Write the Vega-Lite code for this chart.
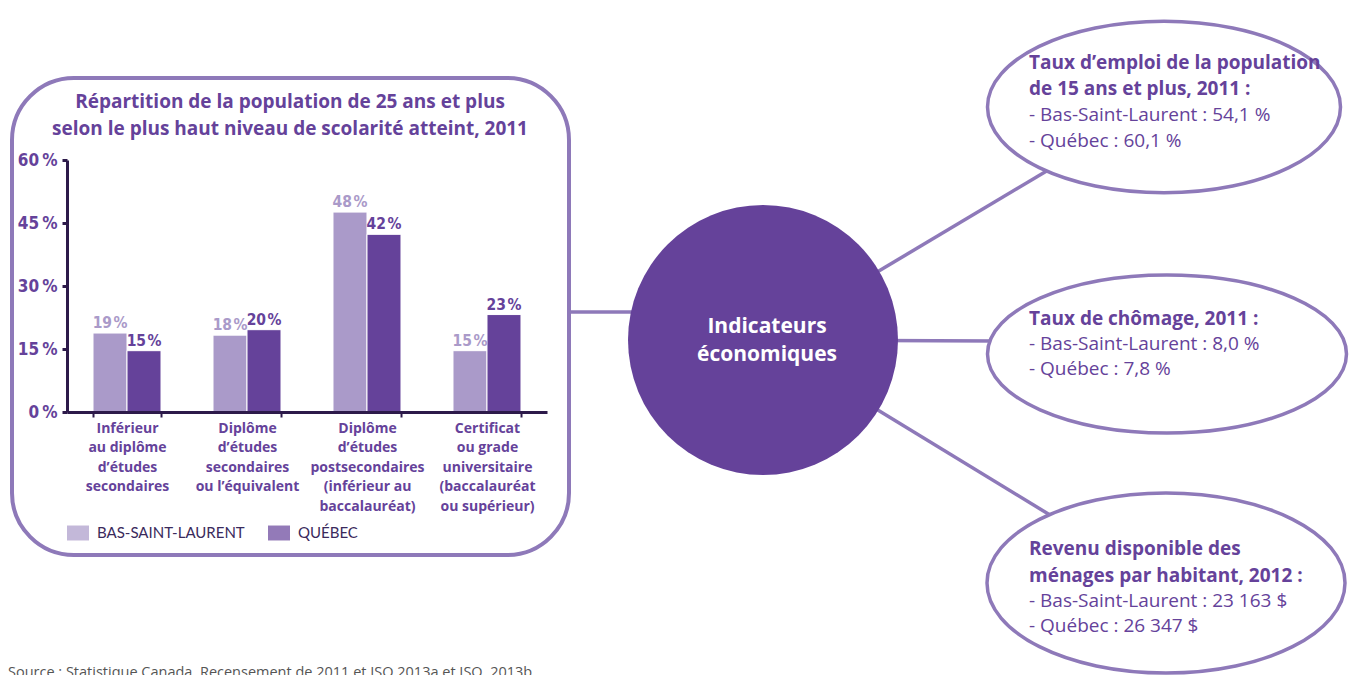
{
  "$schema": "https://vega.github.io/schema/vega-lite/v6.json",
  "width": 1353,
  "height": 675,
  "autosize": {"type": "none"},
  "padding": 0,
  "background": "white",
  "config": {"view": {"stroke": null}, "font": "Open Sans"},
  "resolve": {"scale": {"x": "independent", "y": "independent", "color": "independent"}, "axis": {"x": "independent", "y": "independent"}},
  "layer": [
    {
      "data": {"values": [{}]},
      "layer": [
        {
          "mark": {"type": "rule", "stroke": "#8e79b9", "strokeWidth": 3.5},
          "encoding": {
            "x": {"datum": 569, "type": "quantitative", "scale": {"domain": [0, 1353], "nice": false}, "axis": null},
            "x2": {"datum": 700},
            "y": {"datum": 312, "type": "quantitative", "scale": {"domain": [675, 0], "nice": false}, "axis": null},
            "y2": {"datum": 312}
          }
        },
        {
          "mark": {"type": "rule", "stroke": "#8e79b9", "strokeWidth": 3.5},
          "encoding": {
            "x": {"datum": 763, "type": "quantitative", "scale": {"domain": [0, 1353], "nice": false}, "axis": null},
            "x2": {"datum": 1050},
            "y": {"datum": 340, "type": "quantitative", "scale": {"domain": [675, 0], "nice": false}, "axis": null},
            "y2": {"datum": 169}
          }
        },
        {
          "mark": {"type": "rule", "stroke": "#8e79b9", "strokeWidth": 3.5},
          "encoding": {
            "x": {"datum": 763, "type": "quantitative", "scale": {"domain": [0, 1353], "nice": false}, "axis": null},
            "x2": {"datum": 995},
            "y": {"datum": 340, "type": "quantitative", "scale": {"domain": [675, 0], "nice": false}, "axis": null},
            "y2": {"datum": 341}
          }
        },
        {
          "mark": {"type": "rule", "stroke": "#8e79b9", "strokeWidth": 3.5},
          "encoding": {
            "x": {"datum": 763, "type": "quantitative", "scale": {"domain": [0, 1353], "nice": false}, "axis": null},
            "x2": {"datum": 1050},
            "y": {"datum": 340, "type": "quantitative", "scale": {"domain": [675, 0], "nice": false}, "axis": null},
            "y2": {"datum": 515}
          }
        },
        {
          "mark": {"type": "rect", "cornerRadius": 62, "fillOpacity": 0, "fill": "white", "stroke": "#8e79b9", "strokeWidth": 4},
          "encoding": {
            "x": {"datum": 12, "type": "quantitative", "scale": {"domain": [0, 1353], "nice": false}, "axis": null},
            "x2": {"datum": 569},
            "y": {"datum": 78, "type": "quantitative", "scale": {"domain": [675, 0], "nice": false}, "axis": null},
            "y2": {"datum": 555}
          }
        },
        {
          "mark": {"type": "point", "shape": "circle", "filled": true, "fill": "#65429a", "opacity": 1, "size": 72900, "strokeWidth": 0},
          "encoding": {
            "x": {"datum": 763, "type": "quantitative", "scale": {"domain": [0, 1353], "nice": false}, "axis": null},
            "y": {"datum": 340, "type": "quantitative", "scale": {"domain": [675, 0], "nice": false}, "axis": null}
          }
        },
        {
          "mark": {"type": "point", "shape": "M-1,0A1,0.486,0,1,1,1,0A1,0.486,0,1,1,-1,0Z", "filled": true, "fill": "white", "opacity": 1, "stroke": "#8e79b9", "strokeWidth": 3.5, "size": 124609},
          "encoding": {
            "x": {"datum": 1164, "type": "quantitative", "scale": {"domain": [0, 1353], "nice": false}, "axis": null},
            "y": {"datum": 107, "type": "quantitative", "scale": {"domain": [675, 0], "nice": false}, "axis": null}
          }
        },
        {
          "mark": {"type": "point", "shape": "M-1,0A1,0.44,0,1,1,1,0A1,0.44,0,1,1,-1,0Z", "filled": true, "fill": "white", "opacity": 1, "stroke": "#8e79b9", "strokeWidth": 3.5, "size": 128881},
          "encoding": {
            "x": {"datum": 1167, "type": "quantitative", "scale": {"domain": [0, 1353], "nice": false}, "axis": null},
            "y": {"datum": 354, "type": "quantitative", "scale": {"domain": [675, 0], "nice": false}, "axis": null}
          }
        },
        {
          "mark": {"type": "point", "shape": "M-1,0A1,0.503,0,1,1,1,0A1,0.503,0,1,1,-1,0Z", "filled": true, "fill": "white", "opacity": 1, "stroke": "#8e79b9", "strokeWidth": 3.5, "size": 128164},
          "encoding": {
            "x": {"datum": 1166, "type": "quantitative", "scale": {"domain": [0, 1353], "nice": false}, "axis": null},
            "y": {"datum": 583, "type": "quantitative", "scale": {"domain": [675, 0], "nice": false}, "axis": null}
          }
        }
      ]
    },
    {
      "data": {"values": [{"t": "Répartition de la population de 25 ans et plus\nselon le plus haut niveau de scolarité atteint, 2011"}]},
      "mark": {"type": "text", "lineBreak": "\n", "align": "center", "baseline": "middle", "font": "Open Sans", "fontWeight": "bold", "fontSize": 19, "lineHeight": 27, "color": "#65429a"},
      "encoding": {
        "x": {"datum": 290, "type": "quantitative", "scale": {"domain": [0, 1353], "nice": false}, "axis": null},
        "y": {"datum": 102, "type": "quantitative", "scale": {"domain": [675, 0], "nice": false}, "axis": null},
        "text": {"field": "t"}
      }
    },
    {
      "data": {"values": [{"t": "Indicateurs\néconomiques"}]},
      "mark": {"type": "text", "lineBreak": "\n", "align": "center", "baseline": "middle", "font": "Open Sans", "fontWeight": "bold", "fontSize": 21, "lineHeight": 28, "color": "white"},
      "encoding": {
        "x": {"datum": 767, "type": "quantitative", "scale": {"domain": [0, 1353], "nice": false}, "axis": null},
        "y": {"datum": 327, "type": "quantitative", "scale": {"domain": [675, 0], "nice": false}, "axis": null},
        "text": {"field": "t"}
      }
    },
    {
      "data": {"values": [{"t": "Taux d’emploi de la population\nde 15 ans et plus, 2011 :"}]},
      "mark": {"type": "text", "lineBreak": "\n", "align": "left", "baseline": "middle", "font": "Open Sans", "fontWeight": "bold", "fontSize": 19, "lineHeight": 26, "color": "#65429a"},
      "encoding": {
        "x": {"datum": 1029, "type": "quantitative", "scale": {"domain": [0, 1353], "nice": false}, "axis": null},
        "y": {"datum": 63, "type": "quantitative", "scale": {"domain": [675, 0], "nice": false}, "axis": null},
        "text": {"field": "t"}
      }
    },
    {
      "data": {"values": [{"t": "- Bas-Saint-Laurent : 54,1 %\n- Québec : 60,1 %"}]},
      "mark": {"type": "text", "lineBreak": "\n", "align": "left", "baseline": "middle", "font": "Open Sans", "fontWeight": "normal", "fontSize": 19, "lineHeight": 26, "color": "#65429a"},
      "encoding": {
        "x": {"datum": 1029, "type": "quantitative", "scale": {"domain": [0, 1353], "nice": false}, "axis": null},
        "y": {"datum": 115, "type": "quantitative", "scale": {"domain": [675, 0], "nice": false}, "axis": null},
        "text": {"field": "t"}
      }
    },
    {
      "data": {"values": [{"t": "Taux de chômage, 2011 :"}]},
      "mark": {"type": "text", "align": "left", "baseline": "middle", "font": "Open Sans", "fontWeight": "bold", "fontSize": 19, "color": "#65429a"},
      "encoding": {
        "x": {"datum": 1029, "type": "quantitative", "scale": {"domain": [0, 1353], "nice": false}, "axis": null},
        "y": {"datum": 319, "type": "quantitative", "scale": {"domain": [675, 0], "nice": false}, "axis": null},
        "text": {"field": "t"}
      }
    },
    {
      "data": {"values": [{"t": "- Bas-Saint-Laurent : 8,0 %\n- Québec : 7,8 %"}]},
      "mark": {"type": "text", "lineBreak": "\n", "align": "left", "baseline": "middle", "font": "Open Sans", "fontWeight": "normal", "fontSize": 19, "lineHeight": 25, "color": "#65429a"},
      "encoding": {
        "x": {"datum": 1029, "type": "quantitative", "scale": {"domain": [0, 1353], "nice": false}, "axis": null},
        "y": {"datum": 344, "type": "quantitative", "scale": {"domain": [675, 0], "nice": false}, "axis": null},
        "text": {"field": "t"}
      }
    },
    {
      "data": {"values": [{"t": "Revenu disponible des\nménages par habitant, 2012 :"}]},
      "mark": {"type": "text", "lineBreak": "\n", "align": "left", "baseline": "middle", "font": "Open Sans", "fontWeight": "bold", "fontSize": 19, "lineHeight": 26.5, "color": "#65429a"},
      "encoding": {
        "x": {"datum": 1029, "type": "quantitative", "scale": {"domain": [0, 1353], "nice": false}, "axis": null},
        "y": {"datum": 549, "type": "quantitative", "scale": {"domain": [675, 0], "nice": false}, "axis": null},
        "text": {"field": "t"}
      }
    },
    {
      "data": {"values": [{"t": "- Bas-Saint-Laurent : 23 163 $\n- Québec : 26 347 $"}]},
      "mark": {"type": "text", "lineBreak": "\n", "align": "left", "baseline": "middle", "font": "Open Sans", "fontWeight": "normal", "fontSize": 19, "lineHeight": 24.5, "color": "#65429a"},
      "encoding": {
        "x": {"datum": 1029, "type": "quantitative", "scale": {"domain": [0, 1353], "nice": false}, "axis": null},
        "y": {"datum": 601, "type": "quantitative", "scale": {"domain": [675, 0], "nice": false}, "axis": null},
        "text": {"field": "t"}
      }
    },
    {
      "data": {"values": [{"t": "Source : Statistique Canada, Recensement de 2011 et ISQ 2013a et ISQ, 2013b"}]},
      "mark": {"type": "text", "align": "left", "baseline": "alphabetic", "font": "Open Sans", "fontWeight": "normal", "fontSize": 14.5, "color": "#555555"},
      "encoding": {
        "x": {"datum": 8, "type": "quantitative", "scale": {"domain": [0, 1353], "nice": false}, "axis": null},
        "y": {"datum": 677, "type": "quantitative", "scale": {"domain": [675, 0], "nice": false}, "axis": null},
        "text": {"field": "t"}
      }
    },
    {
      "data": {
        "values": [
          {"cat": "Inférieur|au diplôme|d’études|secondaires", "region": "BAS-SAINT-LAURENT", "pct": 18.8},
          {"cat": "Inférieur|au diplôme|d’études|secondaires", "region": "QUÉBEC", "pct": 14.6},
          {"cat": "Diplôme|d’études|secondaires|ou l’équivalent", "region": "BAS-SAINT-LAURENT", "pct": 18.3},
          {"cat": "Diplôme|d’études|secondaires|ou l’équivalent", "region": "QUÉBEC", "pct": 19.6},
          {"cat": "Diplôme|d’études|postsecondaires|(inférieur au|baccalauréat)", "region": "BAS-SAINT-LAURENT", "pct": 47.6},
          {"cat": "Diplôme|d’études|postsecondaires|(inférieur au|baccalauréat)", "region": "QUÉBEC", "pct": 42.3},
          {"cat": "Certificat|ou grade|universitaire|(baccalauréat|ou supérieur)", "region": "BAS-SAINT-LAURENT", "pct": 14.6},
          {"cat": "Certificat|ou grade|universitaire|(baccalauréat|ou supérieur)", "region": "QUÉBEC", "pct": 23.2}
        ]
      },
      "transform": [{"calculate": "format(datum.pct, '.0f') + '\u200a%'", "as": "lbl"}],
      "encoding": {
        "x": {
          "field": "cat", "type": "nominal",
          "sort": ["Inférieur|au diplôme|d’études|secondaires", "Diplôme|d’études|secondaires|ou l’équivalent", "Diplôme|d’études|postsecondaires|(inférieur au|baccalauréat)", "Certificat|ou grade|universitaire|(baccalauréat|ou supérieur)"],
          "scale": {"range": [67, 547], "paddingInner": 0.4333, "paddingOuter": 0.2167},
          "axis": {
            "orient": "bottom", "offset": -263, "title": null, "zindex": 2,
            "domainColor": "#2d1a4a", "domainWidth": 3, "tickColor": "#2d1a4a", "tickWidth": 2, "tickSize": 5, "tickBand": "extent",
            "labelExpr": "split(datum.label, '|')", "labelFont": "Open Sans", "labelFontWeight": "bold", "labelFontSize": 14,
            "labelColor": "#65429a", "labelLineHeight": 19.5, "labelPadding": 4, "labelAngle": 0, "labelOverlap": false, "labelLimit": 0, "labelBaseline": "top"
          }
        },
        "xOffset": {"field": "region", "type": "nominal", "sort": ["BAS-SAINT-LAURENT", "QUÉBEC"], "scale": {"paddingInner": 0, "paddingOuter": 0}},
        "y": {
          "field": "pct", "type": "quantitative",
          "scale": {"domain": [0, 60], "range": [412, 160], "nice": false},
          "axis": {
            "orient": "left", "offset": -67, "title": null, "values": [0, 15, 30, 45, 60], "grid": false, "zindex": 2,
            "labelExpr": "datum.value + '\u2009%'",
            "domainColor": "#2d1a4a", "domainWidth": 3, "tickColor": "#2d1a4a", "tickWidth": 3, "tickSize": 5,
            "labelFont": "DejaVu Sans Condensed", "labelFontWeight": "bold", "labelFontSize": 17,
            "labelColor": "#65429a", "labelPadding": 5
          }
        },
        "color": {
          "field": "region", "type": "nominal",
          "scale": {"domain": ["BAS-SAINT-LAURENT", "QUÉBEC"], "range": ["#aa9ac9", "#65429a"]},
          "legend": {
            "orient": "none", "legendX": 67, "legendY": 522, "direction": "horizontal", "title": null,
            "symbolType": "M-1,-0.68H1V0.68H-1Z", "symbolSize": 484, "symbolOpacity": 0.7, "symbolStrokeWidth": 0,
            "labelFont": "Lato", "labelFontSize": 15, "labelColor": "#3a2a5c", "labelOffset": 8, "columnPadding": 23, "padding": 0
          }
        }
      },
      "layer": [
        {"mark": {"type": "bar", "stroke": "white", "strokeWidth": 1}},
        {
          "mark": {"type": "text", "baseline": "alphabetic", "dy": -5, "font": "DejaVu Sans Condensed", "fontWeight": "bold", "fontSize": 15.5},
          "encoding": {"text": {"field": "lbl"}}
        }
      ]
    }
  ]
}
